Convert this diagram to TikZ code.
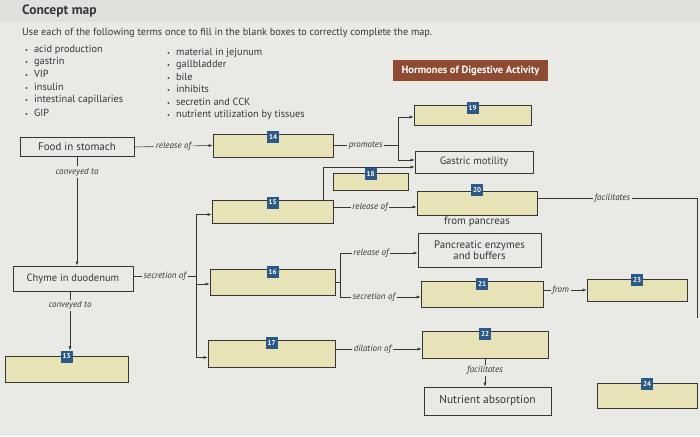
\documentclass[tikz,border=0pt]{standalone}
\usepackage{fontspec}
\setmainfont{PT Sans}
\usetikzlibrary{arrows.meta,calc}
\definecolor{bg}{HTML}{E9E9E6}
\definecolor{topband}{HTML}{E0E0DD}
\definecolor{blankfill}{HTML}{E8E3B6}
\definecolor{badgeblue}{HTML}{2C5A88}
\definecolor{bannerbrown}{HTML}{8E4B31}
\definecolor{ink}{HTML}{363636}
\begin{document}
\begin{tikzpicture}[x=1pt,y=-1pt,
  box/.style={draw=ink, line width=0.9pt, inner sep=1pt, font=\fontsize{10.5}{12}\selectfont, text=ink, align=center},
  blank/.style={box, fill=blankfill},
  badge/.style={fill=badgeblue, text=white, font=\fontsize{7}{7}\selectfont\bfseries, inner sep=0pt, minimum size=12pt},
  lbl/.style={fill=bg, font=\fontsize{9}{10}\selectfont\itshape, text=ink, inner sep=1.6pt},
  conn/.style={draw=ink, line width=0.6pt},
  arr/.style={conn, -{Latex[length=4pt,width=3.2pt]}},
  item/.style={anchor=west, font=\fontsize{10.3}{11}\selectfont, text=ink, inner sep=0pt},
]
% background
\fill[bg] (0,0) rectangle (700,436);
\fill[topband] (0,0) rectangle (700,22);

% heading and instructions
\node[anchor=west, inner sep=0pt, font=\fontsize{13.5}{14}\selectfont\bfseries, text=ink] (title) at (22,11) {Concept map};
\node[item] (instr) at (22,33) {Use each of the following terms once to fill in the blank boxes to correctly complete the map.};

\newcommand{\bl}{{\fontsize{6.5}{6}\selectfont\textbullet}\hspace{6pt}}
\node[item] (t1) at (25,50) {\bl acid production};
\node[item] (t2) at (25,62) {\bl gastrin};
\node[item] (t3) at (25,74) {\bl VIP};
\node[item] (t4) at (25,87) {\bl insulin};
\node[item] (t5) at (25,100) {\bl intestinal capillaries};
\node[item] (t6) at (25,113) {\bl GIP};
\node[item] (t7) at (167,53) {\bl material in jejunum};
\node[item] (t8) at (167,65) {\bl gallbladder};
\node[item] (t9) at (167,77) {\bl bile};
\node[item] (t10) at (167,89) {\bl inhibits};
\node[item] (t11) at (167,102) {\bl secretin and CCK};
\node[item] (t12) at (167,115) {\bl nutrient utilization by tissues};

% banner
\node[fill=bannerbrown, text=white, font=\fontsize{10.5}{11}\selectfont\bfseries, minimum width=155pt, minimum height=21pt, inner sep=0pt] (banner) at (470.5,70.5) {Hormones of Digestive Activity};

% boxes
\node[box, minimum width=114pt, minimum height=19pt, font=\fontsize{11}{12}\selectfont] (food) at (77,147) {Food in stomach};
\node[box, minimum width=120pt, minimum height=25pt] (chyme) at (73,278.5) {Chyme in duodenum};
\node[box, minimum width=118pt, minimum height=22pt] (gm) at (474,162) {Gastric motility};
\node[box, minimum width=123pt, minimum height=34pt, font=\fontsize{10.8}{11.5}\selectfont] (pe) at (479.5,250) {Pancreatic enzymes\\and buffers};
\node[box, minimum width=127pt, minimum height=28pt, font=\fontsize{11.5}{12}\selectfont] (na) at (487.5,401) {Nutrient absorption};

\node[blank, minimum width=123pt, minimum height=26pt] (b13) at (66.5,369) {};
\node[blank, minimum width=120pt, minimum height=23pt] (b14) at (273,145.5) {};
\node[blank, minimum width=121pt, minimum height=23pt] (b15) at (272.5,211.5) {};
\node[blank, minimum width=125pt, minimum height=26pt] (b16) at (272.5,282) {};
\node[blank, minimum width=127pt, minimum height=27pt] (b17) at (271.5,353.5) {};
\node[blank, minimum width=75pt, minimum height=17pt] (b18) at (370.5,181.5) {};
\node[blank, minimum width=117pt, minimum height=20pt] (b19) at (472.5,115) {};
\node[blank, minimum width=120pt, minimum height=24pt] (b20) at (477,203) {};
\node[blank, minimum width=122pt, minimum height=26pt] (b21) at (482,294) {};
\node[blank, minimum width=126pt, minimum height=27pt] (b22) at (485,344.5) {};
\node[blank, minimum width=100pt, minimum height=22pt] (b23) at (637,290) {};
\node[blank, minimum width=100pt, minimum height=25pt] (b24) at (647,395.5) {};

\node[font=\fontsize{10.8}{12}\selectfont, text=ink, inner sep=0pt] (fromp) at (477,222) {from pancreas};

% junction coordinates
\coordinate (j1) at (398,145.5);
\coordinate (j2) at (196,276);
\coordinate (j3) at (340,282);
\coordinate (y207) at (0,207);
\coordinate (y349) at (0,349);
\coordinate (y290) at (0,290);
\coordinate (f1) at (697,198);
\coordinate (f2) at (697,318);

% connectors
\draw[arr] (food.east) -- node[lbl, pos=0.5]{release of} (b14.west);
\draw[conn] (b14.east) -- node[lbl]{promotes} (j1);
\draw[arr] (j1) |- ([yshift=-2pt]b19.west);
\draw[arr] (j1) |- ([yshift=2pt]gm.west);
\draw[arr] ([xshift=-10pt]b15.north east) |- ([yshift=-5pt]gm.west);
\draw[arr] (b15.east |- y207) -- node[lbl, pos=0.44]{release of} (b20.west |- y207);
\draw[conn] (b20.east |- f1) -- node[lbl, pos=0.47]{facilitates} (f1) -- (f2);

\draw[arr] (food.south) -- node[lbl, pos=0.14]{conveyed to} (food.south |- chyme.north);
\draw[conn] (chyme.east |- j2) -- node[lbl]{secretion of} (j2);
\draw[arr] (j2) |- ([yshift=-3pt]b15.west);
\draw[arr] (j2) |- ([yshift=-2pt]b16.west);
\draw[arr] (j2) |- ([yshift=-4pt]b17.west);

\draw[conn] (b16.east) -- (j3);
\draw[arr] (j3) |- node[lbl, pos=0.7]{release of} ([yshift=-3pt]pe.west);
\draw[arr] (j3) |- node[lbl, pos=0.71]{secretion of} ([yshift=-3pt]b21.west);
\draw[arr] (b17.east |- y349) -- node[lbl, pos=0.43]{dilation of} (b22.west |- y349);
\draw[arr] (b21.east |- y290) -- node[lbl, pos=0.4]{from} (b23.west |- y290);
\draw[arr] (b22.south) -- node[lbl, pos=0.42]{facilitates} (b22.south |- na.north);

% badges
\node[badge] (n13) at ([yshift=-1pt]b13.north) {13};
\draw[arr] ([xshift=-3pt]chyme.south) -- node[lbl, pos=0.24]{conveyed to} ([xshift=-3pt]chyme.south |- n13.north);
\node[badge] (n14) at ([yshift=-3pt]b14.north) {14};
\node[badge] (n15) at ([yshift=-3pt]b15.north) {15};
\node[badge] (n16) at ([yshift=-3pt]b16.north) {16};
\node[badge] (n17) at ([yshift=-3pt]b17.north) {17};
\node[badge] (n18) at ([yshift=-1pt]b18.north) {18};
\node[badge] (n19) at ([yshift=-3pt]b19.north) {19};
\node[badge] (n20) at ([yshift=1pt]b20.north) {20};
\node[badge] (n21) at ([yshift=-3pt]b21.north) {21};
\node[badge] (n22) at ([yshift=-3pt]b22.north) {22};
\node[badge] (n23) at ([yshift=-1pt]b23.north) {23};
\node[badge] (n24) at ([yshift=-1pt]b24.north) {24};
\end{tikzpicture}
\end{document}
